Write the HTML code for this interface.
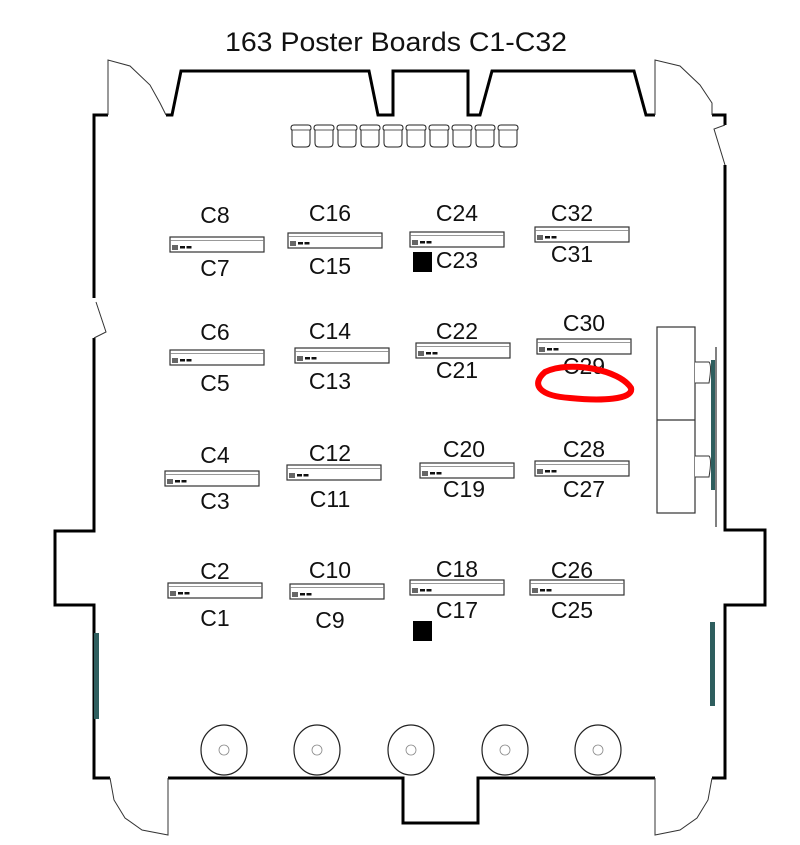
<!DOCTYPE html>
<html><head><meta charset="utf-8"><style>
html,body{margin:0;padding:0;background:#fff;}
svg{display:block;}
text{font-family:"Liberation Sans","DejaVu Sans",sans-serif;fill:#111;}
</style></head><body>
<svg width="800" height="845" viewBox="0 0 800 845" xmlns="http://www.w3.org/2000/svg">
<defs>
<g id="bd">
<rect x="0" y="0" width="94" height="15" fill="#fff" stroke="#333" stroke-width="1.2"/>
<line x1="0" y1="3.5" x2="94" y2="3.5" stroke="#777" stroke-width="0.8"/>
<rect x="2" y="8" width="6" height="5" fill="#666"/>
<rect x="10" y="9" width="5" height="2.5" fill="#111"/>
<rect x="16.5" y="9" width="5" height="2.5" fill="#111"/>
</g>
<g id="ch">
<path d="M1,3 q0,-3 3,-3 h14 q3,0 3,3 q0,2 -1,2 v13 q0,4 -4,4 h-10 q-4,0 -4,-4 v-13 q-1,0 -1,-2 z" fill="#fff" stroke="#222" stroke-width="1"/>
<line x1="2" y1="5" x2="20" y2="5" stroke="#222" stroke-width="0.8"/>
</g>
</defs>
<text x="396" y="51" font-size="27" text-anchor="middle" textLength="342" lengthAdjust="spacingAndGlyphs">163 Poster Boards C1-C32</text>
<!-- walls -->
<g fill="none" stroke="#000" stroke-width="3">
<polyline points="108,115 94,115 94,298"/>
<polyline points="94,338 94,531 55,531 55,605 94,605 94,778 110,778"/>
<polyline points="168,778 403,778 403,823 478,823 478,778 655,778"/>
<polyline points="712,778 725,778 725,605 765,605 765,530 725,530 725,165"/>
<polyline points="725,125 725,115 712,115"/>
<polyline points="655,115 646,115 634,71 492,71 480,115 468,115 468,71 393,71 393,115 378,115 369,71 181,71 172,115 166,115"/>
</g>
<g fill="none" stroke="#333" stroke-width="1">
<polyline points="108,115 108,60 130,66 150,85 160,103 166,115"/>
<polyline points="655,115 655,60 680,66 700,85 712,103 712,115"/>
<polyline points="725,125 714,129 725,165"/>
<polyline points="96,302 106,332 94,338"/>
<polyline points="110,778 114,800 125,818 142,830 168,835 168,778"/>
<polyline points="712,778 708,800 697,818 680,830 655,835 655,778"/>
</g>
<!-- chairs -->
<g>
<use href="#ch" x="290" y="125"/><use href="#ch" x="313" y="125"/><use href="#ch" x="336" y="125"/><use href="#ch" x="359" y="125"/><use href="#ch" x="382" y="125"/><use href="#ch" x="405" y="125"/><use href="#ch" x="428" y="125"/><use href="#ch" x="451" y="125"/><use href="#ch" x="474" y="125"/><use href="#ch" x="497" y="125"/>
</g>
<!-- boards -->
<use href="#bd" x="170" y="237"/><use href="#bd" x="288" y="233"/><use href="#bd" x="410" y="232"/><use href="#bd" x="535" y="227"/>
<use href="#bd" x="170" y="350"/><use href="#bd" x="295" y="348"/><use href="#bd" x="416" y="343"/><use href="#bd" x="537" y="339"/>
<use href="#bd" x="165" y="471"/><use href="#bd" x="287" y="465"/><use href="#bd" x="420" y="463"/><use href="#bd" x="535" y="461"/>
<use href="#bd" x="168" y="583"/><use href="#bd" x="290" y="584"/><use href="#bd" x="410" y="580"/><use href="#bd" x="530" y="580"/>
<g font-size="23" text-anchor="middle">
<text x="215" y="223">C8</text><text x="215" y="276">C7</text>
<text x="330" y="221">C16</text><text x="330" y="274">C15</text>
<text x="457" y="221">C24</text><text x="457" y="268">C23</text>
<text x="572" y="221">C32</text><text x="572" y="262">C31</text>
<text x="215" y="340">C6</text><text x="215" y="391">C5</text>
<text x="330" y="339">C14</text><text x="330" y="389">C13</text>
<text x="457" y="339">C22</text><text x="457" y="378">C21</text>
<text x="584" y="331">C30</text><text x="584" y="374">C29</text>
<text x="215" y="463">C4</text><text x="215" y="509">C3</text>
<text x="330" y="461">C12</text><text x="330" y="507">C11</text>
<text x="464" y="457">C20</text><text x="464" y="497">C19</text>
<text x="584" y="457">C28</text><text x="584" y="497">C27</text>
<text x="215" y="579">C2</text><text x="215" y="626">C1</text>
<text x="330" y="578">C10</text><text x="330" y="628">C9</text>
<text x="457" y="577">C18</text><text x="457" y="618">C17</text>
<text x="572" y="578">C26</text><text x="572" y="618">C25</text>
</g>
<rect x="413" y="252" width="19" height="20" fill="#000"/>
<rect x="413" y="621" width="19" height="20" fill="#000"/>
<path d="M545,372 C570,360 620,370 631,388 C634,400 600,401 570,398 C540,396 530,385 545,372 Z" fill="none" stroke="#f00" stroke-width="6"/>
<!-- right stage -->
<rect x="657" y="327" width="38" height="186" fill="#fff" stroke="#333" stroke-width="1.2"/>
<line x1="657" y1="420" x2="695" y2="420" stroke="#333" stroke-width="1.2"/>
<rect x="711" y="360" width="4" height="130" fill="#2e5e5e"/>
<line x1="716" y1="347" x2="716" y2="527" stroke="#000" stroke-width="1"/>
<path d="M695,362 h14 q3,3 0,21 h-14" fill="#fff" stroke="#333" stroke-width="1"/>
<path d="M695,456 h14 q3,3 0,21 h-14" fill="#fff" stroke="#333" stroke-width="1"/>
<!-- teal bars -->
<rect x="94" y="633" width="5" height="86" fill="#2e5e5e"/>
<rect x="710" y="622" width="5" height="84" fill="#2e5e5e"/>
<!-- circles -->
<g fill="none" stroke="#222" stroke-width="1.2">
<ellipse cx="224" cy="750" rx="23" ry="25"/><circle cx="224" cy="750" r="5" stroke="#888" stroke-width="0.8"/>
<ellipse cx="317" cy="750" rx="23" ry="25"/><circle cx="317" cy="750" r="5" stroke="#888" stroke-width="0.8"/>
<ellipse cx="411" cy="750" rx="23" ry="25"/><circle cx="411" cy="750" r="5" stroke="#888" stroke-width="0.8"/>
<ellipse cx="505" cy="750" rx="23" ry="25"/><circle cx="505" cy="750" r="5" stroke="#888" stroke-width="0.8"/>
<ellipse cx="598" cy="750" rx="23" ry="25"/><circle cx="598" cy="750" r="5" stroke="#888" stroke-width="0.8"/>
</g>
</svg>
</body></html>
